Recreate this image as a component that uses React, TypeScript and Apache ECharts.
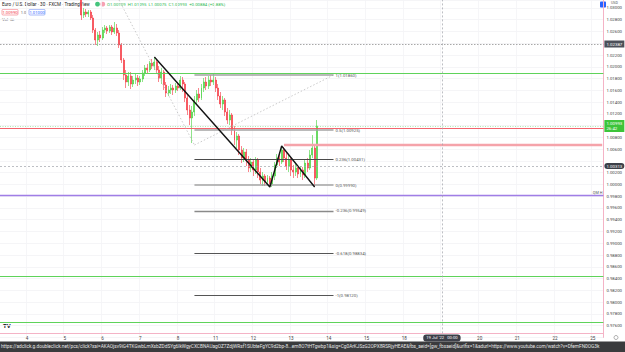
import React, { useEffect, useRef } from "react";
import * as echarts from "echarts";

// ---------- axis / category layout ----------
const LEAD_SLOTS = 11;
const SLOTS_PER_DAY = 16;
const TOTAL_SLOTS = 256;
const DAY_LABELS = ["4", "5", "6", "7", "8", "11", "12", "13", "14", "15", "18", "19", "20", "21", "22", "25"];
const Y_MIN = 0.974;
const Y_MAX = 1.03135;
const Y_STEP = 0.002;

// ---------- candles [open, close, low, high] ----------
const FIRST_CANDLE = 34;
const CANDLES: number[][] = [
  [1.0322, 1.0288, 1.02795, 1.03271],
  [1.0288, 1.02931, 1.02829, 1.02999],
  [1.02931, 1.02897, 1.02846, 1.02982],
  [1.02897, 1.02931, 1.02846, 1.02965],
  [1.02931, 1.02829, 1.02795, 1.02965],
  [1.02829, 1.02625, 1.02574, 1.0288],
  [1.02625, 1.02455, 1.0237, 1.02659],
  [1.02455, 1.0254, 1.02353, 1.02591],
  [1.0254, 1.02489, 1.02421, 1.02608],
  [1.02489, 1.02625, 1.02455, 1.02676],
  [1.02625, 1.02659, 1.02574, 1.0271],
  [1.02659, 1.02608, 1.02557, 1.02693],
  [1.02608, 1.02676, 1.02574, 1.0271],
  [1.02676, 1.02591, 1.0254, 1.0271],
  [1.02591, 1.02659, 1.02557, 1.02761],
  [1.02659, 1.02574, 1.02523, 1.02727],
  [1.02574, 1.0237, 1.02319, 1.02625],
  [1.0237, 1.02115, 1.02064, 1.02404],
  [1.02115, 1.0186, 1.01775, 1.02149],
  [1.0186, 1.01741, 1.01639, 1.01945],
  [1.01741, 1.01843, 1.01673, 1.01911],
  [1.01843, 1.01707, 1.01622, 1.01911],
  [1.01707, 1.01775, 1.01656, 1.01843],
  [1.01775, 1.01809, 1.01707, 1.01877],
  [1.01809, 1.01741, 1.01673, 1.0186],
  [1.01741, 1.01792, 1.0169, 1.01843],
  [1.01792, 1.01894, 1.01741, 1.01945],
  [1.01894, 1.01979, 1.01843, 1.0203],
  [1.01979, 1.01945, 1.01877, 1.02047],
  [1.01945, 1.02064, 1.01911, 1.02098],
  [1.02064, 1.02013, 1.01962, 1.02132],
  [1.02013, 1.02081, 1.01945, 1.02166],
  [1.02081, 1.01945, 1.01877, 1.02115],
  [1.01945, 1.01809, 1.01741, 1.02013],
  [1.01809, 1.01911, 1.01707, 1.01979],
  [1.01911, 1.0169, 1.01605, 1.01945],
  [1.0169, 1.01554, 1.01486, 1.01741],
  [1.01554, 1.01605, 1.01503, 1.01673],
  [1.01605, 1.01639, 1.01537, 1.01707],
  [1.01639, 1.01605, 1.0152, 1.0169],
  [1.01605, 1.01673, 1.01554, 1.01724],
  [1.01673, 1.01639, 1.01588, 1.01741],
  [1.01639, 1.01775, 1.01605, 1.01843],
  [1.01775, 1.01707, 1.01571, 1.01826],
  [1.01707, 1.01469, 1.01401, 1.01741],
  [1.01469, 1.01265, 1.0118, 1.0152],
  [1.01265, 1.01129, 1.0101, 1.0135],
  [1.01129, 1.01231, 1.00704, 1.01333],
  [1.01231, 1.01435, 1.01163, 1.01503],
  [1.01435, 1.01537, 1.01367, 1.01605],
  [1.01537, 1.01469, 1.01401, 1.01639],
  [1.01469, 1.01639, 1.01435, 1.01707],
  [1.01639, 1.01741, 1.01571, 1.01809],
  [1.01741, 1.01673, 1.01605, 1.01826],
  [1.01673, 1.01775, 1.01622, 1.01843],
  [1.01775, 1.01741, 1.01673, 1.0186],
  [1.01741, 1.01775, 1.0169, 1.01877],
  [1.01775, 1.01639, 1.01571, 1.01826],
  [1.01639, 1.01503, 1.01435, 1.01707],
  [1.01503, 1.01367, 1.01299, 1.01571],
  [1.01367, 1.01435, 1.01265, 1.01503],
  [1.01435, 1.01231, 1.01163, 1.01469],
  [1.01231, 1.01095, 1.01027, 1.01299],
  [1.01095, 1.0118, 1.0101, 1.01265],
  [1.0118, 1.00925, 1.0084, 1.01214],
  [1.00925, 1.00755, 1.0067, 1.00993],
  [1.00755, 1.00823, 1.00619, 1.00891],
  [1.00823, 1.00585, 1.005, 1.00857],
  [1.00585, 1.00449, 1.00364, 1.00653],
  [1.00449, 1.00551, 1.00381, 1.00619],
  [1.00551, 1.00415, 1.00313, 1.00602],
  [1.00415, 1.00279, 1.00211, 1.00483],
  [1.00279, 1.00381, 1.00211, 1.00449],
  [1.00381, 1.00245, 1.00143, 1.00415],
  [1.00245, 1.00415, 1.00177, 1.00466],
  [1.00415, 1.00211, 1.00109, 1.00449],
  [1.00211, 1.00075, 1.00007, 1.00279],
  [1.00075, 1.00143, 0.99973, 1.00211],
  [1.00143, 1.00041, 0.99973, 1.00177],
  [1.00041, 1.00109, 0.9999, 1.0016],
  [1.00109, 1.00007, 0.99956, 1.00143],
  [1.00007, 1.00143, 0.99956, 1.00211],
  [1.00143, 1.0033, 1.00075, 1.00381],
  [1.0033, 1.00449, 1.00279, 1.00517],
  [1.00449, 1.00381, 1.00313, 1.00551],
  [1.00381, 1.00585, 1.00347, 1.00653],
  [1.00585, 1.00449, 1.00381, 1.00636],
  [1.00449, 1.00313, 1.00245, 1.00551],
  [1.00313, 1.00415, 1.00211, 1.005],
  [1.00415, 1.00245, 1.00143, 1.00449],
  [1.00245, 1.00211, 1.00109, 1.0033],
  [1.00211, 1.00279, 1.00143, 1.00347],
  [1.00279, 1.00177, 1.00109, 1.0033],
  [1.00177, 1.00245, 1.00126, 1.00313],
  [1.00245, 1.0016, 1.00075, 1.00296],
  [1.0016, 1.00364, 1.00109, 1.00415],
  [1.00364, 1.00279, 1.00211, 1.00449],
  [1.00279, 1.005, 1.00245, 1.00585],
  [1.005, 1.00619, 1.00449, 1.0084],
  [1.00619, 1.00109, 0.99956, 1.00653],
  [1.00109, 1.00993, 1.00075, 1.01095],
];

// ---------- drawings ----------
const TREND_POINTS: number[][] = [
  [65, 1.02166],
  [114, 0.99956],
  [119, 1.00653],
  [133, 0.99956],
];
const QM_POINT_INDEX = 2;
const FIB_ZERO = 0.9999;
const FIB_ONE = 1.0186;
const FIB_LEVELS = [1, 0.5, 0.236, 0, -0.236, -0.618, -1];
const FIB_START = 82;
const FIB_END = 141;
const DIAG_A: number[][] = [[50, 1.03135], [82, 1.0067]];
const DIAG_B: number[][] = [[82, 1.0067], [141, 1.0186]];
const LEVEL_DOTTED = 1.02387;
const LEVEL_GREEN_TOP = 1.01894;
const LEVEL_RED = 1.00959;
const LEVEL_RED_QM = 1.0067;
const LEVEL_RED_QM_START = 120;
const LEVEL_PURPLE = 0.9982;
const LEVEL_GREEN_MID = 0.98443;
const LEVEL_GREEN_LOW = 0.97661;
const CROSS_INDEX = 187;
const CROSS_PRICE = 1.00313;
const CROSS_TIME = "19 Jul '22   00:00";
const COUNTDOWN = "26:42";
const TITLE = "Euro / U.S. Dollar · 30 · FXCM · TradingView";
const BID = "1.00990";
const SPREAD = "1.0";
const ASK = "1.01000";
const STATUS_URL =
  "https://adclick.g.doubleclick.net/pcs/click?xai=AKAOjsv9iG4TKGwbLmXsbZDdSYg6lkWgyCXCBNAUagOZ7ZdjWRsf1SUbteFgYC9d2bp-8...em8O7tHTgwbp1&sig=Cg0ArKJSzG2OPX8RSRjyHEAE&fbs_aeid=[gw_fbsaeid]&urlfix=1&adurl=https://www.youtube.com/watch?v=DfemFN0OG3k";

const FONT = "Roboto, 'Liberation Sans', sans-serif";
const UP = "#45d13c";
const DOWN = "#f5333d";
const PINK = "#f4b3c6";

function buildOption() {
  const categories: string[] = [];
  for (let k = 0; k < LEAD_SLOTS; k++) categories.push(`1|${k}`);
  DAY_LABELS.forEach((d) => {
    for (let k = 0; k < SLOTS_PER_DAY; k++) categories.push(k === 0 ? d : `${d}|${k}`);
  });
  categories.length = TOTAL_SLOTS;

  const candleData: any[] = [];
  for (let i = 0; i < FIRST_CANDLE; i++) candleData.push(["-", "-", "-", "-"]);
  CANDLES.forEach((c) => candleData.push(c));

  const last = CANDLES[CANDLES.length - 1];
  const prev = CANDLES[CANDLES.length - 2];
  const chg = last[1] - prev[1];
  const sign = chg >= 0 ? "+" : "";
  const ohlc = `O${last[0].toFixed(5)}  H${last[3].toFixed(5)}  L${last[2].toFixed(5)}  C${last[1].toFixed(5)}  ${sign}${chg.toFixed(5)} (${sign}${((chg / prev[1]) * 100).toFixed(2)}%)`;

  // price tags that cover axis tick labels: [value, half-height in price units]
  const tags: number[][] = [
    [LEVEL_DOTTED, 0.0009],
    [CROSS_PRICE, 0.0009],
    [last[1], 0.0015],
  ];

  const fibStyles = [
    { color: "#a3a3a3", width: 1.6 },
    { color: "#a3a3a3", width: 1.6 },
    { color: "#4a4a4a", width: 1 },
    { color: "#a3a3a3", width: 1.6 },
    { color: "#8a8a8a", width: 1.3 },
    { color: "#555555", width: 1 },
    { color: "#555555", width: 1 },
  ];
  const fibLines = FIB_LEVELS.map((lv, k) => {
    const p = FIB_ZERO + lv * (FIB_ONE - FIB_ZERO);
    return [
      {
        coord: [FIB_START, p],
        lineStyle: { color: fibStyles[k].color, width: fibStyles[k].width, type: "solid" },
        label: {
          show: true,
          position: "end",
          formatter: `${lv}(${p.toFixed(5)})`,
          fontSize: 4.3,
          color: "#555",
          distance: 2,
          fontFamily: FONT,
        },
      },
      { coord: [FIB_END, p] },
    ];
  });

  const axisTag = (bg: string, text?: string) => ({
    show: true,
    position: "end",
    distance: 1,
    formatter: text ?? ((p: any) => Number(p.value).toFixed(5)),
    backgroundColor: bg,
    color: "#fff",
    fontSize: 4.4,
    padding: [1, 2],
    fontFamily: FONT,
    lineHeight: 5,
  });

  const hLine = (value: number, color: string, width: number, type: any, label?: any) => ({
    yAxis: value,
    lineStyle: { color, width, type, opacity: 1 },
    label: label ?? { show: false },
  });

  const markLines: any[] = [
    hLine(LEVEL_DOTTED, "#9e9e9e", 0.9, [1.5, 1.5], axisTag("#4c4f59")),
    hLine(LEVEL_GREEN_TOP, "#5fd35a", 1.1, "solid"),
    hLine(LEVEL_RED, "#f2525c", 0.9, "solid"),
    hLine(LEVEL_PURPLE, "#a07ee6", 1.3, "solid", {
      show: true,
      position: "insideEndTop",
      formatter: "QM H",
      fontSize: 3.8,
      color: "#555",
      distance: 1,
      fontFamily: FONT,
    }),
    hLine(LEVEL_GREEN_MID, "#5fd35a", 1.1, "solid"),
    hLine(LEVEL_GREEN_LOW, "#5fd35a", 1.1, "solid"),
    hLine(last[1], "#7fd87a", 0.6, [1, 1.5], axisTag("#3dc43a", `${last[1].toFixed(5)}\n${COUNTDOWN}`)),
    [
      { coord: [LEVEL_RED_QM_START, LEVEL_RED_QM], lineStyle: { color: "#f5a3aa", width: 2.4, type: "solid" } },
      { coord: [TOTAL_SLOTS - 1, LEVEL_RED_QM] },
    ],
    [
      { coord: DIAG_A[0], lineStyle: { color: "#bdbdbd", width: 0.8, type: [1.5, 2] } },
      { coord: DIAG_A[1] },
    ],
    [
      { coord: DIAG_B[0], lineStyle: { color: "#bdbdbd", width: 0.8, type: [1.5, 2] } },
      { coord: DIAG_B[1] },
    ],
    ...fibLines,
  ];

  const showLabel = (i: number, v: string) => !String(v).includes("|") && i !== CROSS_INDEX;
  const showGrid = (_i: number, v: string) => !String(v).includes("|");

  const trendData = TREND_POINTS.map((p, k) =>
    k === QM_POINT_INDEX
      ? {
          value: p,
          label: {
            show: true,
            formatter: "QM",
            position: "top",
            distance: 2,
            fontSize: 5,
            fontWeight: "bold",
            color: "#333",
            fontFamily: FONT,
          },
        }
      : { value: p }
  );

  return {
    animation: false,
    backgroundColor: "#ffffff",
    textStyle: { fontFamily: FONT },
    grid: { left: 0, right: 17, top: 0, bottom: 14.6, containLabel: false },
    xAxis: {
      type: "category",
      data: categories,
      offset: -4,
      axisLine: { show: true, lineStyle: { color: PINK, width: 1 } },
      axisTick: { show: false },
      axisLabel: {
        interval: showLabel,
        formatter: (v: string) => (v.includes("|") ? "" : v),
        fontSize: 4.6,
        color: "#444",
        margin: 2.5,
        fontFamily: FONT,
      },
      splitLine: { show: true, interval: showGrid, lineStyle: { color: "#f4f4f6", width: 0.8 } },
      axisPointer: {
        show: true,
        status: "show",
        value: CROSS_INDEX,
        type: "line",
        triggerTooltip: false,
        lineStyle: { color: "#a0a3ab", width: 0.7, type: [2, 2] },
        label: {
          show: true,
          formatter: () => CROSS_TIME,
          backgroundColor: "#3d4049",
          color: "#fff",
          fontSize: 4.2,
          padding: [1.5, 3],
          margin: 1,
          fontFamily: FONT,
        },
      },
    },
    yAxis: {
      type: "value",
      position: "right",
      min: Y_MIN,
      max: Y_MAX,
      interval: Y_STEP,
      axisLine: { show: true, lineStyle: { color: PINK, width: 1 } },
      axisTick: { show: false },
      axisLabel: {
        formatter: (v: number) =>
          tags.some((t) => Math.abs(v - t[0]) < t[1]) ? "" : v.toFixed(5),
        fontSize: 4.3,
        color: "#444",
        margin: 3,
        showMaxLabel: false,
        showMinLabel: false,
        fontFamily: FONT,
      },
      splitLine: { show: true, lineStyle: { color: "#f3f3f5", width: 0.8 } },
      axisPointer: {
        show: true,
        status: "show",
        value: CROSS_PRICE,
        type: "line",
        triggerTooltip: false,
        lineStyle: { color: "#a0a3ab", width: 0.7, type: [2, 2] },
        label: {
          show: true,
          formatter: (p: any) => Number(p.value).toFixed(5),
          backgroundColor: "#3d4049",
          color: "#fff",
          fontSize: 4.4,
          padding: [1, 2],
          margin: 1,
          fontFamily: FONT,
        },
      },
    },
    series: [
      {
        type: "candlestick",
        data: candleData,
        barWidth: "62%",
        itemStyle: { color: UP, color0: DOWN, borderColor: UP, borderColor0: DOWN, borderWidth: 0.6 },
        markLine: { silent: true, precision: 5, symbol: ["none", "none"], animation: false, data: markLines },
      },
      {
        type: "line",
        data: trendData,
        showSymbol: false,
        symbol: "none",
        lineStyle: { color: "#141414", width: 1.4 },
        z: 5,
        silent: true,
      },
    ],
    graphic: [
      { type: "text", x: 2, y: 4.2, style: { text: TITLE, fontSize: 4.6, fill: "#222", textVerticalAlign: "middle", fontFamily: FONT } },
      { type: "circle", shape: { cx: 97.5, cy: 4.2, r: 2.4 }, style: { fill: "#44c47c" } },
      { type: "circle", shape: { cx: 102.8, cy: 4.2, r: 2.4 }, style: { fill: "#f6a1b3" } },
      { type: "text", x: 107, y: 4.2, style: { text: ohlc, fontSize: 4.3, fill: "#2bb84f", textVerticalAlign: "middle", fontFamily: FONT } },
      { type: "rect", shape: { x: 2, y: 9.4, width: 16, height: 5.6, r: 1 }, style: { fill: "#fff", stroke: "#f5717a", lineWidth: 0.6 } },
      { type: "text", x: 10, y: 12.3, style: { text: BID, fontSize: 4.2, fill: "#f23645", textAlign: "center", textVerticalAlign: "middle", fontFamily: FONT } },
      { type: "text", x: 23.5, y: 12.3, style: { text: SPREAD, fontSize: 4, fill: "#666", textAlign: "center", textVerticalAlign: "middle", fontFamily: FONT } },
      { type: "rect", shape: { x: 29, y: 9.4, width: 16, height: 5.6, r: 1 }, style: { fill: "#fff", stroke: "#6b8cf5", lineWidth: 0.6 } },
      { type: "text", x: 37, y: 12.3, style: { text: ASK, fontSize: 4.2, fill: "#2962ff", textAlign: "center", textVerticalAlign: "middle", fontFamily: FONT } },
      { type: "text", x: 2, y: 19.5, style: { text: "Vol  ∞", fontSize: 4.2, fill: "#777", textVerticalAlign: "middle", fontFamily: FONT } },
      { type: "rect", shape: { x: 600, y: 1.5, width: 6, height: 6, r: 0.8 }, style: { fill: "#2962ff" } },
      { type: "text", x: 611, y: 3.2, style: { text: "USD", fontSize: 3.6, fill: "#555", textVerticalAlign: "middle", fontFamily: FONT } },
      { type: "text", x: 3, y: 325, style: { text: "TV", fontSize: 6, fontWeight: "bold", fill: "#131722", textVerticalAlign: "middle", fontFamily: FONT } },
      { type: "circle", shape: { cx: 616, cy: 337.5, r: 2 }, style: { fill: "none", stroke: "#777", lineWidth: 0.6 } },
      { type: "rect", z: 100, shape: { x: 0, y: 341.5, width: 625, height: 10.5 }, style: { fill: "#3a3b3d" } },
      { type: "text", z: 101, x: 1, y: 346.8, style: { text: STATUS_URL, fontSize: 4.75, fill: "#e6e6e6", textVerticalAlign: "middle", fontFamily: FONT } },
    ],
  };
}

export default function App() {
  const ref = useRef<HTMLDivElement>(null);
  useEffect(() => {
    if (!ref.current) return;
    const chart = echarts.init(ref.current, null, { renderer: "svg" });
    chart.setOption(buildOption() as any);
    return () => chart.dispose();
  }, []);
  return (
    <div
      ref={ref}
      style={{ position: "fixed", left: 0, top: 0, width: 625, height: 352, background: "#fff" }}
    />
  );
}
